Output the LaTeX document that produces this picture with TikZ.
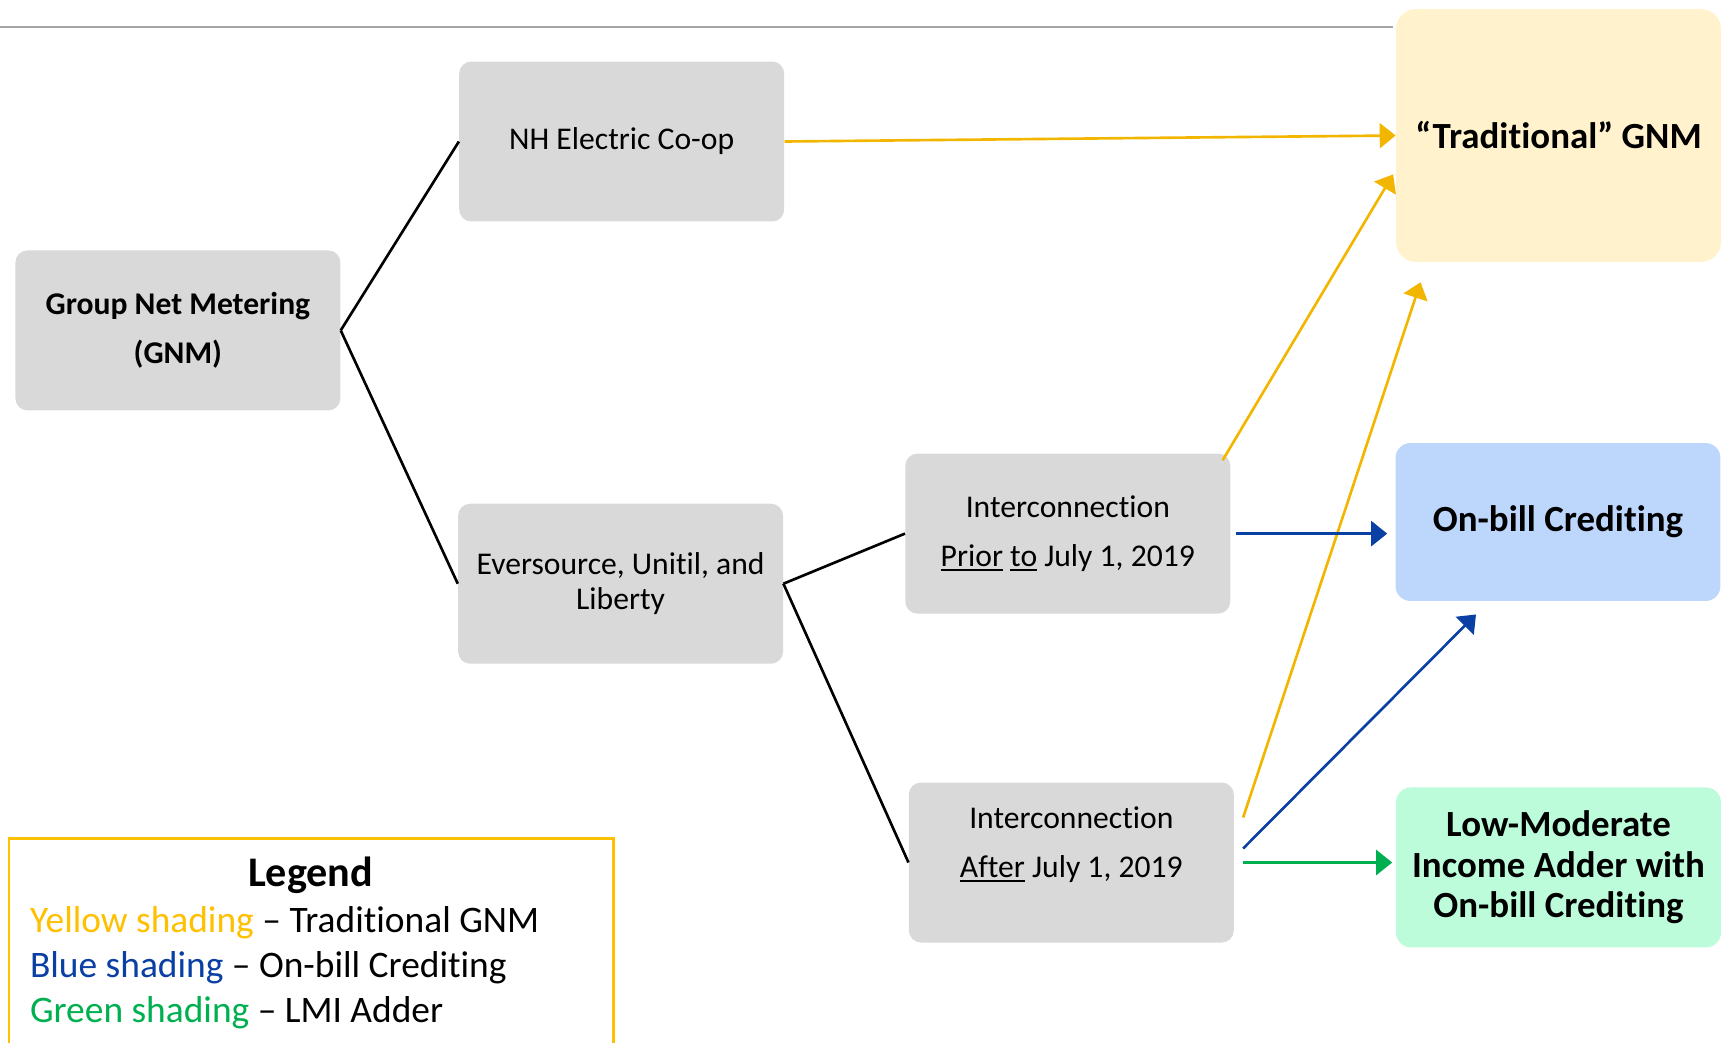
\documentclass[tikz,border=0pt]{standalone}
\usepackage{fontspec}
\setmainfont{Carlito}[Ligatures=NoCommon]
\usetikzlibrary{arrows.meta,calc}
\definecolor{boxgray}{HTML}{D9D9D9}
\definecolor{linegold}{HTML}{F2B600}
\definecolor{legendgold}{HTML}{FFC000}
\definecolor{obcblue}{HTML}{0A3FA3}
\definecolor{lmigreen}{HTML}{00B050}
\definecolor{tradfill}{HTML}{FFF2CC}
\definecolor{obcfill}{HTML}{BDD6FB}
\definecolor{lmifill}{HTML}{BDFCDA}
\newcommand{\undl}[1]{\setbox0\hbox{#1}\rlap{\rule[-2.6pt]{\wd0}{1pt}}\box0\relax}

\begin{document}
\begin{tikzpicture}[x=0.02cm, y=-0.02cm]
        \tikzstyle{graybox}=[fill=boxgray, rounded corners=0.24cm, minimum width=6.5cm, minimum height=3.2cm, align=center, inner sep=0pt, font=\fontsize{18}{28}\selectfont]
        \tikzstyle{colorbox}=[rounded corners=0.3cm, minimum width=6.5cm, minimum height=3.2cm, align=center, inner sep=0pt, font=\fontsize{21}{23.2}\selectfont\bfseries]
        \tikzstyle{branch}=[line width=1.5pt, black]
        \tikzstyle{arrowline}=[line width=1.5pt, -{Triangle[length=0.32cm, width=0.5cm]}]

        \useasboundingbox (0,0) rectangle (1727,1042);
        \draw[gray!70, line width=1.1pt] (0,27) -- (1393,27);

        \node (gnm)[graybox, font=\fontsize{18}{28}\selectfont\bfseries] at (177.9,330.4) {Group Net Metering\\(GNM)};
        \node (nh)[graybox] at (621.7,141.5) {NH Electric Co-op};
        \node (ever)[graybox, font=\fontsize{18}{20}\selectfont] at (620.6,583.7) {Eversource, Unitil, and\\Liberty};
        \node (prior)[graybox] at (1067.8,533.6) {Interconnection\\\undl{Prior} \undl{to} July 1, 2019};
        \node (after)[graybox, label={[align=center, yshift=0.36cm, font=\fontsize{18}{28}\selectfont]center:Interconnection\\\undl{After} July 1, 2019}] at (1071.3,862.5) {};

        \node (trad)[colorbox, fill=tradfill, rounded corners=0.4cm, minimum height=5.06cm] at (1558.5,135.5) {“Traditional” GNM};
        \node (onbill)[colorbox, fill=obcfill, minimum height=3.16cm] at (1558,522) {On-bill Crediting};
        \node (lowmod)[colorbox, fill=lmifill] at (1558.5,867.4) {Low-Moderate\\Income Adder with\\On-bill Crediting};

        \draw[branch] (gnm.east) -- (nh.west);
        \draw[branch] (gnm.east) -- (ever.west);
        \draw[branch] (ever.east) -- (prior.west);
        \draw[branch] (ever.east) -- (after.west);

        \draw[arrowline, linegold] (nh.east) -- (trad.west);
        \draw[arrowline, linegold, shorten >=0.1cm] ($(prior.north east)+(-8,7)$) -- (trad.192);
        \draw[arrowline, linegold, shorten >=0.42cm] ($(after.east)+(9,-45)$) -- (trad.224.5);
        \draw[arrowline, obcblue, shorten >=0.16cm] ($(prior.east)+(5,0)$) -- (prior.east -| onbill.west);
        \draw[arrowline, obcblue, shorten >=0.37cm] ($(after.east)+(9,-14)$) -- (onbill.229);
        \draw[arrowline, lmigreen, shorten >=0.07cm] ($(after.east)+(9,0)$) -- (after.east -| lowmod.west);

        \draw[legendgold, line width=1.7pt, fill=white] (9,838) rectangle (613,1080);
        \node (legtitle)[font=\fontsize{24}{28}\selectfont\bfseries] at (310.6,875) {Legend};
        \node (legyellow)[anchor=west, inner sep=0pt, font=\fontsize{21.3}{25}\selectfont] at (29.7,923) {\textcolor{legendgold}{Yellow shading} – Traditional GNM};
        \node (legblue)[anchor=west, inner sep=0pt, font=\fontsize{21.3}{25}\selectfont] at (29.7,968) {\textcolor{obcblue}{Blue shading} – On-bill Crediting};
        \node (leggreen)[anchor=west, inner sep=0pt, font=\fontsize{21.3}{25}\selectfont] at (29.7,1013) {\textcolor{lmigreen}{Green shading} – LMI Adder};
\end{tikzpicture}
\end{document}
